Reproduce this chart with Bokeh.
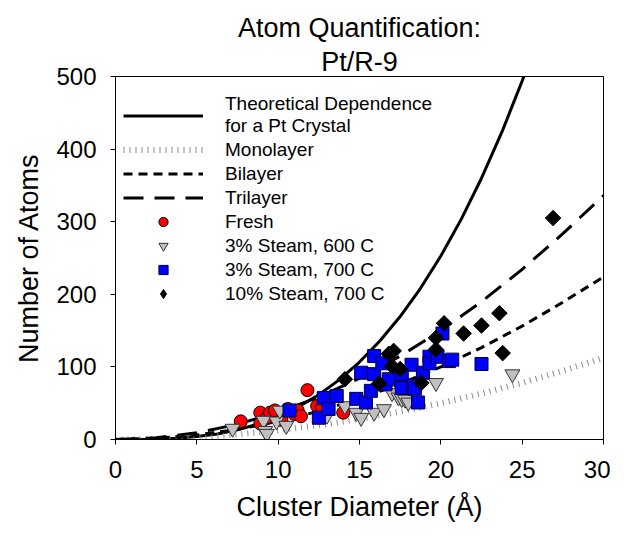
import numpy as np
from bokeh.plotting import figure
from bokeh.models import Range1d, SingleIntervalTicker, Legend, LegendItem, Title
from bokeh.embed import file_html
from bokeh.resources import INLINE

# ---- data ----
curve_d = [0, 1.25, 2.5, 3.75, 5, 6.25, 7.5, 8.75, 10, 11.25, 12.5, 13.75, 15, 16.25,
           17.5, 18.75, 20, 21.25, 22.5, 23.75, 25, 25.1]
theory_n = [0, 0.06, 0.5, 1.7, 4.0, 7.7, 13.3, 21.2, 31.6, 45.0, 61.7, 82.1, 106.7, 135.6,
            169.4, 208.3, 252.8, 303.2, 359.9, 423.3, 493.8, 500]

layer_d = [0, 2.5, 5, 7.5, 10, 12.5, 15, 17.5, 20, 22.5, 25, 27.5, 30]
mono_n = [0, 0.8, 3.1, 7.0, 12.5, 19.5, 28.1, 38.3, 50, 63.3, 78.1, 94.5, 112.5]
bi_n = [0, 1.6, 6.2, 14.0, 25, 39, 56.2, 76.6, 100, 126.6, 156.2, 189, 224]
tri_n = [0, 2.4, 9.3, 21, 37.5, 58.5, 84.3, 114.9, 150, 189.9, 234.3, 283.5, 336]

fresh_d = [7.7, 8.9, 8.9, 9.3, 9.5, 9.8, 10.2, 10.6, 11.0, 11.2, 11.4, 11.8, 12.4, 12.7, 14.0]
fresh_n = [25, 37, 22, 30, 37, 40, 27, 42, 35, 40, 32, 68, 46, 44, 37]

gray_d = [7.2, 9.1, 9.2, 9.3, 9.9, 10.1, 10.5, 13.0, 14.1, 14.8, 15.1, 15.9, 16.5,
          17.0, 17.4, 17.6, 17.8, 18.0, 19.7, 24.4]
gray_n = [15, 26, 12, 8, 25, 40, 19, 33, 46, 37, 30, 37, 42, 64, 58, 56, 55, 51, 78, 90]

blue_d = [10.7, 12.5, 12.8, 13.1, 13.6, 14.8, 15.1, 15.4, 15.7, 15.9, 15.9, 16.4, 16.6, 16.8,
          17.6, 17.6, 18.2, 18.3, 18.4, 18.6, 18.9, 19.3, 19.3, 19.8, 20.1, 20.5, 20.7, 22.5]
blue_n = [40, 30, 57, 42, 60, 56, 92, 51, 67, 115, 90, 105, 76, 83,
          90, 71, 103, 74, 70, 51, 92, 114, 105, 114, 146, 108, 110, 104]

black_d = [14.1, 16.2, 16.8, 17.1, 17.0, 17.5, 18.8, 19.7, 19.7, 20.2, 21.4, 22.5, 23.6, 23.8, 26.9]
black_n = [83, 77, 118, 122, 101, 97, 78, 124, 140, 160, 146, 157, 174, 119, 305]

x_ticks_interval = 5
y_ticks_interval = 100

FONT = "Liberation Sans"

p = figure(width=610, height=524, output_backend="svg", toolbar_location=None,
           x_range=Range1d(0, 30), y_range=Range1d(0, 500),
           min_border_left=115, min_border_right=7, min_border_top=76, min_border_bottom=84)
p.add_layout(Title(text="Pt/R-9", align="center", text_font=FONT, text_font_size="27px",
                   text_font_style="normal", text_color="black", standoff=0), "above")
p.add_layout(Title(text="Atom Quantification:", align="center", text_font=FONT,
                   text_font_size="27px", text_font_style="normal", text_color="black",
                   standoff=3), "above")

p.xgrid.visible = False
p.ygrid.visible = False
p.outline_line_color = "black"
p.outline_line_width = 1
p.background_fill_color = "white"
p.border_fill_color = "white"

p.xaxis.ticker = SingleIntervalTicker(interval=x_ticks_interval)
p.yaxis.ticker = SingleIntervalTicker(interval=y_ticks_interval)
for ax in (p.xaxis, p.yaxis):
    ax.major_tick_in = 0
    ax.major_tick_out = 5
    ax.minor_tick_line_color = None
    ax.axis_line_color = "black"
    ax.major_tick_line_color = "black"
    ax.major_label_text_font = FONT
    ax.major_label_text_font_size = "24px"
    ax.major_label_text_color = "black"
    ax.axis_label_text_font = FONT
    ax.axis_label_text_font_size = "27px"
    ax.axis_label_text_font_style = "normal"
    ax.axis_label_text_color = "black"
p.xaxis.axis_label = "Cluster Diameter (Å)"
p.yaxis.axis_label = "Number of Atoms"
p.xaxis.major_label_standoff = 16
p.yaxis.major_label_standoff = 14
p.xaxis.axis_label_standoff = 11
p.yaxis.axis_label_standoff = 9

r_theory = p.line(curve_d, theory_n, line_color="black", line_width=3)
r_mono = p.line(layer_d, mono_n, line_color="#8c8c8c", line_width=6, line_dash="1 5", line_cap="butt")
r_bi = p.line(layer_d, bi_n, line_color="black", line_width=3, line_dash="9 6")
r_tri = p.line(layer_d, tri_n, line_color="black", line_width=3, line_dash="20 11")

r_fresh = p.scatter(fresh_d, fresh_n, marker="circle", size=13, fill_color="#ff0000",
                    line_color="black", line_width=1)
r_gray = p.scatter(gray_d, gray_n, marker="inverted_triangle", size=15, fill_color="#c0c0c0",
                   line_color="#333333", line_width=1)
r_blue = p.scatter(blue_d, blue_n, marker="square", size=13, fill_color="#0000ff",
                   line_color="#000033", line_width=1)
r_black = p.scatter(black_d, black_n, marker="square", angle=np.pi / 4, size=11,
                    fill_color="black", line_color="black", line_width=1)
# legend key for the diamonds (the legend does not rotate markers); no visible data
r_black_key = p.scatter([np.nan], [np.nan], marker="diamond", size=11, fill_color="black",
                        line_color="black", line_width=1)

legend = Legend(items=[
    LegendItem(label="Theoretical Dependence\nfor a Pt Crystal", renderers=[r_theory]),
    LegendItem(label="Monolayer", renderers=[r_mono]),
    LegendItem(label="Bilayer", renderers=[r_bi]),
    LegendItem(label="Trilayer", renderers=[r_tri]),
    LegendItem(label="Fresh", renderers=[r_fresh]),
    LegendItem(label="3% Steam, 600 C", renderers=[r_gray]),
    LegendItem(label="3% Steam, 700 C", renderers=[r_blue]),
    LegendItem(label="10% Steam, 700 C", renderers=[r_black_key]),
], location=(8, 134))
legend.background_fill_alpha = 0
legend.border_line_color = None
legend.margin = 0
legend.padding = 0
legend.spacing = 1
legend.glyph_width = 80
legend.glyph_height = 23
legend.label_height = 20
legend.label_standoff = 22
legend.label_text_font = FONT
legend.label_text_font_size = "19px"
legend.label_text_color = "black"
p.add_layout(legend, "center")

open("out.html", "w").write(file_html(p, INLINE))
